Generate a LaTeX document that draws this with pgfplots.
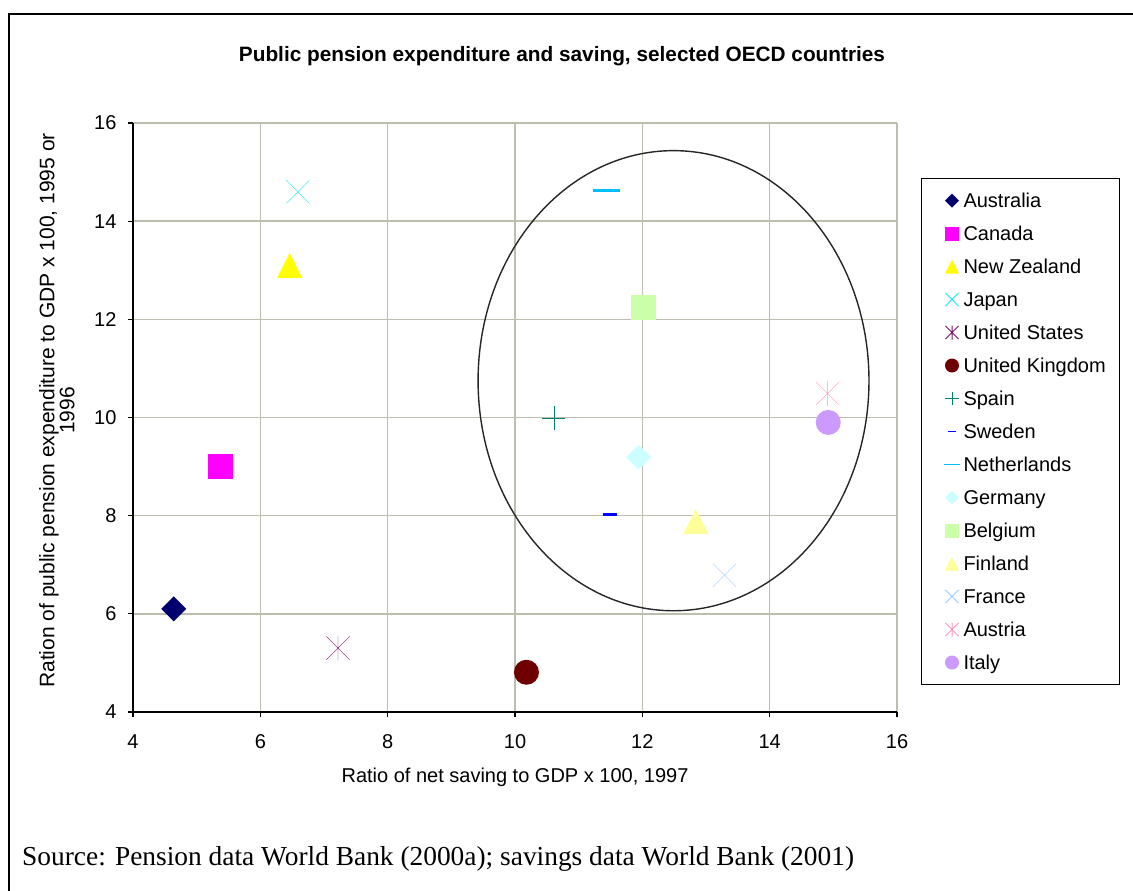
\documentclass[border=0pt]{standalone}
\usepackage{fontspec}
\setmainfont{Liberation Sans}
\newfontfamily\srcfont{Liberation Serif}
\usepackage{pgfplots}
\pgfplotsset{compat=1.18}

\definecolor{gridc}{RGB}{190,190,176}
\definecolor{cAus}{RGB}{0,0,110}
\definecolor{cCan}{RGB}{255,0,255}
\definecolor{cNZ}{RGB}{255,255,0}
\definecolor{cJap}{RGB}{20,235,240}
\definecolor{cUS}{RGB}{128,20,110}
\definecolor{cUK}{RGB}{110,0,0}
\definecolor{cSpa}{RGB}{0,128,110}
\definecolor{cSwe}{RGB}{0,0,255}
\definecolor{cNet}{RGB}{0,190,255}
\definecolor{cGer}{RGB}{204,255,255}
\definecolor{cBel}{RGB}{204,255,170}
\definecolor{cFin}{RGB}{255,255,153}
\definecolor{cFra}{RGB}{153,204,255}
\definecolor{cAut}{RGB}{255,153,190}
\definecolor{cIta}{RGB}{204,153,255}

\pgfdeclareplotmark{mdia}{%
  \pgfpathmoveto{\pgfpoint{0pt}{\pgfplotmarksize}}%
  \pgfpathlineto{\pgfpoint{\pgfplotmarksize}{0pt}}%
  \pgfpathlineto{\pgfpoint{0pt}{-\pgfplotmarksize}}%
  \pgfpathlineto{\pgfpoint{-\pgfplotmarksize}{0pt}}%
  \pgfpathclose\pgfusepathqfill}
\pgfdeclareplotmark{msq}{%
  \pgfpathrectangle{\pgfpoint{-\pgfplotmarksize}{-\pgfplotmarksize}}{\pgfpoint{2\pgfplotmarksize}{2\pgfplotmarksize}}%
  \pgfusepathqfill}
\pgfdeclareplotmark{mtri}{%
  \pgfpathmoveto{\pgfpoint{0pt}{\pgfplotmarksize}}%
  \pgfpathlineto{\pgfpoint{\pgfplotmarksize}{-\pgfplotmarksize}}%
  \pgfpathlineto{\pgfpoint{-\pgfplotmarksize}{-\pgfplotmarksize}}%
  \pgfpathclose\pgfusepathqfill}
\pgfdeclareplotmark{mcirc}{%
  \pgfpathcircle{\pgfpointorigin}{\pgfplotmarksize}\pgfusepathqfill}
\pgfdeclareplotmark{mx}{%
  \pgfpathmoveto{\pgfpoint{-0.93\pgfplotmarksize}{-0.93\pgfplotmarksize}}%
  \pgfpathlineto{\pgfpoint{0.93\pgfplotmarksize}{0.93\pgfplotmarksize}}%
  \pgfpathmoveto{\pgfpoint{-0.93\pgfplotmarksize}{0.93\pgfplotmarksize}}%
  \pgfpathlineto{\pgfpoint{0.93\pgfplotmarksize}{-0.93\pgfplotmarksize}}%
  \pgfusepathqstroke}
\pgfdeclareplotmark{mast}{%
  \pgfpathmoveto{\pgfpoint{-0.93\pgfplotmarksize}{-0.93\pgfplotmarksize}}%
  \pgfpathlineto{\pgfpoint{0.93\pgfplotmarksize}{0.93\pgfplotmarksize}}%
  \pgfpathmoveto{\pgfpoint{-0.93\pgfplotmarksize}{0.93\pgfplotmarksize}}%
  \pgfpathlineto{\pgfpoint{0.93\pgfplotmarksize}{-0.93\pgfplotmarksize}}%
  \pgfpathmoveto{\pgfpoint{0pt}{-\pgfplotmarksize}}%
  \pgfpathlineto{\pgfpoint{0pt}{\pgfplotmarksize}}%
  \pgfusepathqstroke}
\pgfdeclareplotmark{mplus}{%
  \pgfpathmoveto{\pgfpoint{-0.93\pgfplotmarksize}{0pt}}%
  \pgfpathlineto{\pgfpoint{0.93\pgfplotmarksize}{0pt}}%
  \pgfpathmoveto{\pgfpoint{0pt}{-0.93\pgfplotmarksize}}%
  \pgfpathlineto{\pgfpoint{0pt}{0.93\pgfplotmarksize}}%
  \pgfusepathqstroke}
\pgfdeclareplotmark{msdash}{%
  \pgfpathrectangle{\pgfpoint{-0.56\pgfplotmarksize}{-0.13\pgfplotmarksize}}{\pgfpoint{1.12\pgfplotmarksize}{0.26\pgfplotmarksize}}%
  \pgfusepathqfill}
\pgfdeclareplotmark{mldash}{%
  \pgfpathrectangle{\pgfpoint{-1.08\pgfplotmarksize}{-0.14\pgfplotmarksize}}{\pgfpoint{2.16\pgfplotmarksize}{0.28\pgfplotmarksize}}%
  \pgfusepathqfill}

\begin{document}
\begin{tikzpicture}
\useasboundingbox (0,0) rectangle (1133bp,-891bp);
\fill[white] (0,0) rectangle (1133bp,-891bp);
\draw[line width=2bp] (9bp,-900bp) -- (9bp,-13.5bp) -- (1140bp,-13.5bp);
\node[font=\bfseries\fontsize{20.8bp}{24bp}\selectfont] at (562bp,-56bp) {Public pension expenditure and saving, selected OECD countries};
\node[font=\srcfont\fontsize{27.4bp}{30bp}\selectfont, anchor=base west, inner sep=0pt] at (22bp,-865bp) {Source: Pension data World Bank (2000a); savings data World Bank (2001)};

\begin{axis}[
  at={(133bp,-712bp)}, anchor=south west,
  scale only axis, width=764bp, height=589bp,
  xmin=4, xmax=16, ymin=4, ymax=16,
  xtick={4,6,...,16}, ytick={4,6,...,16},
  axis x line*=bottom, axis y line*=left,
  axis line style={line width=1.3bp, black},
  tick align=outside, major tick length=5bp,
  tick style={line width=1.3bp, black},
  grid=major, major grid style={line width=1.5bp, gridc},
  ticklabel style={font=\fontsize{20bp}{24bp}\selectfont},
  xticklabel style={yshift=-14bp},
  yticklabel style={xshift=-8bp},
  /pgf/number format/assume math mode=true,
  xlabel={Ratio of net saving to GDP x 100, 1997},
  xlabel style={at={(axis description cs:0.5,0)}, anchor=center, yshift=-65bp, font=\fontsize{20bp}{24bp}\selectfont},
  ylabel={Ration of public pension expenditure to GDP x 100, 1995 or\\1996},
  ylabel style={at={(axis description cs:-0.0995,0.512)}, anchor=center, align=center, font=\fontsize{21bp}{19bp}\selectfont},
  every axis plot/.append style={only marks, mark size=12.5bp},
  every mark/.append style={line width=1.3bp},
  legend image code/.code={\draw[#1, mark size=7bp] plot coordinates {(0bp,0bp)}; \path (-16bp,0bp) (11bp,0bp);},
  legend cell align=left,
  legend style={at={(1.03141,0.906621)}, anchor=north west, draw=black, line width=1bp,
    inner xsep=14bp, inner ysep=5.5bp, row sep=0pt,
    font=\fontsize{20bp}{24bp}\selectfont,
    nodes={inner xsep=0pt, inner ysep=0pt, text height=23.5bp, text depth=9.5bp}},
]
\addplot[color=cAus, mark=mdia] coordinates {(4.64,6.10)};
\addlegendentry{Australia}
\addplot[color=cCan, mark=msq] coordinates {(5.37,9.01)};
\addlegendentry{Canada}
\addplot[color=cNZ, mark=mtri] coordinates {(6.46,13.10)};
\addlegendentry{New Zealand}
\addplot[color=cJap, mark=mx] coordinates {(6.59,14.60)};
\addlegendentry{Japan}
\addplot[color=cUS, mark=mast] coordinates {(7.22,5.30)};
\addlegendentry{United States}
\addplot[color=cUK, mark=mcirc] coordinates {(10.18,4.81)};
\addlegendentry{United Kingdom}
\addplot[color=cSpa, mark=mplus] coordinates {(10.61,9.99)};
\addlegendentry{Spain}
\addplot[color=cSwe, mark=msdash] coordinates {(11.49,8.03)};
\addlegendentry{Sweden}
\addplot[color=cNet, mark=mldash] coordinates {(11.44,14.62)};
\addlegendentry{Netherlands}
\addplot[color=cGer, mark=mdia] coordinates {(11.94,9.19)};
\addlegendentry{Germany}
\addplot[color=cBel, mark=msq] coordinates {(12.02,12.24)};
\addlegendentry{Belgium}
\addplot[color=cFin, mark=mtri] coordinates {(12.84,7.88)};
\addlegendentry{Finland}
\addplot[color=cFra, mark=mx] coordinates {(13.29,6.79)};
\addlegendentry{France}
\addplot[color=cAut, mark=mast] coordinates {(14.91,10.49)};
\addlegendentry{Austria}
\addplot[color=cIta, mark=mcirc] coordinates {(14.92,9.90)};
\addlegendentry{Italy}
\draw[line width=1.4bp, black!85] (axis cs:12.49,10.75) ellipse [x radius=3.07, y radius=4.687];
\end{axis}
\end{tikzpicture}
\end{document}
